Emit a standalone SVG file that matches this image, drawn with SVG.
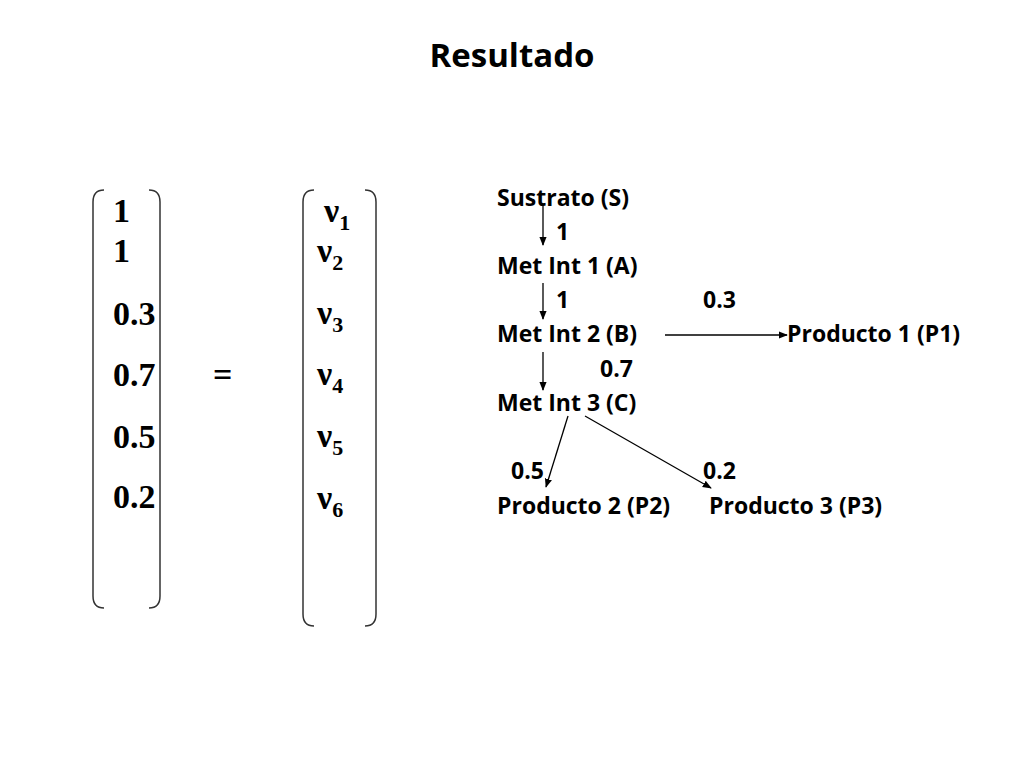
<svg xmlns="http://www.w3.org/2000/svg" width="1024" height="768" viewBox="0 0 1024 768">
<style>
.t{font-family:"Open Sans","Liberation Sans",sans-serif;font-weight:bold;font-size:23px;fill:#000}
.m{font-family:"Liberation Serif",serif;font-weight:bold;font-size:34px;fill:#000}
.s{font-size:22px}
.br{fill:none;stroke:#333;stroke-width:1.5}
.c{stroke:#000;stroke-width:1.3;fill:none;marker-end:url(#a)}
</style>
<defs><marker id="a" viewBox="0 0 10 10" refX="9" refY="5" markerWidth="7" markerHeight="7" orient="auto"><path d="M0,1 L10,5 L0,9 z" fill="#000"/></marker></defs>
<rect width="1024" height="768" fill="#fff"/>
<text x="512" y="67" text-anchor="middle" font-family="Open Sans,Liberation Sans,sans-serif" font-weight="bold" font-size="33">Resultado</text>
<g id="matrix">
<path class="br" d="M104,190 Q93,190 93,202 V596 Q93,608 104,608"/>
<path class="br" d="M149,190 Q160,190 160,202 V596 Q160,608 149,608"/>
<text class="m" x="113" y="222">1</text>
<text class="m" x="113" y="262">1</text>
<text class="m" x="113" y="325">0.3</text>
<text class="m" x="113" y="386">0.7</text>
<text class="m" x="113" y="448">0.5</text>
<text class="m" x="113" y="508">0.2</text>
<text class="m" x="213" y="386">=</text>
<path class="br" d="M314,190 Q303,190 303,202 V614 Q303,626 314,626"/>
<path class="br" d="M365,190 Q376,190 376,202 V614 Q376,626 365,626"/>
<text class="m" x="324" y="222">ν<tspan class="s" dy="8">1</tspan></text>
<text class="m" x="317" y="262">ν<tspan class="s" dy="8">2</tspan></text>
<text class="m" x="317" y="324">ν<tspan class="s" dy="8">3</tspan></text>
<text class="m" x="317" y="385">ν<tspan class="s" dy="8">4</tspan></text>
<text class="m" x="317" y="447">ν<tspan class="s" dy="8">5</tspan></text>
<text class="m" x="317" y="509">ν<tspan class="s" dy="8">6</tspan></text>
</g>
<g id="S"><text class="t" x="497" y="206">Sustrato (S)</text></g>
<g id="A"><text class="t" x="497" y="274">Met Int 1 (A)</text></g>
<g id="B"><text class="t" x="497" y="342">Met Int 2 (B)</text></g>
<g id="P1"><text class="t" x="787" y="342">Producto 1 (P1)</text></g>
<g id="C"><text class="t" x="497" y="411">Met Int 3 (C)</text></g>
<g id="P2"><text class="t" x="497" y="514">Producto 2 (P2)</text></g>
<g id="P3"><text class="t" x="709" y="514">Producto 3 (P3)</text></g>
<g id="labels">
<text class="t" x="556" y="240">1</text>
<text class="t" x="556" y="308">1</text>
<text class="t" x="703" y="308">0.3</text>
<text class="t" x="600" y="377">0.7</text>
<text class="t" x="511" y="479">0.5</text>
<text class="t" x="703" y="479">0.2</text>
</g>
<g id="connectors">
<line class="c" x1="543" y1="204" x2="543" y2="245"/>
<line class="c" x1="543" y1="283" x2="543" y2="319"/>
<line class="c" x1="543" y1="352" x2="543" y2="390"/>
<line class="c" x1="665" y1="335" x2="787" y2="335"/>
<line class="c" x1="568" y1="416" x2="546" y2="487"/>
<line class="c" x1="585" y1="416" x2="711" y2="488"/>
</g>
</svg>
